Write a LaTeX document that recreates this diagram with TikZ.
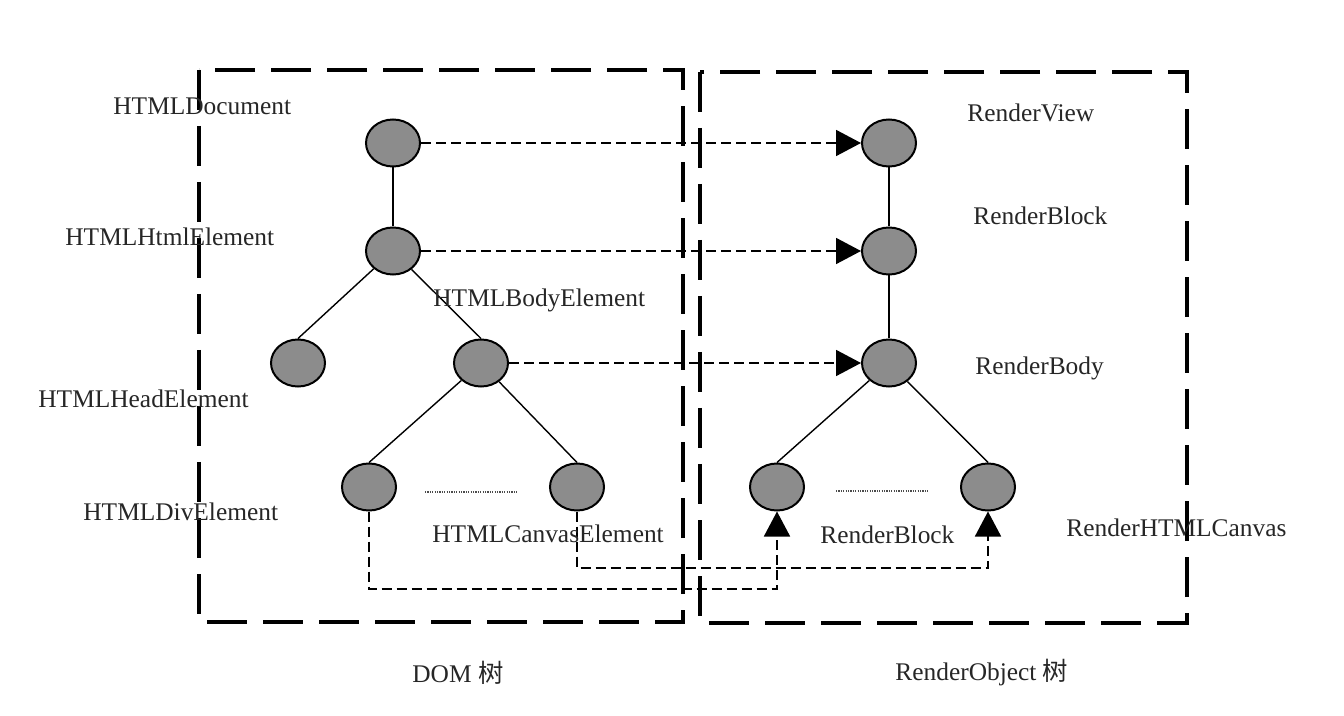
\documentclass[tikz,border=0pt]{standalone}
\usepackage{fontspec}
\setmainfont{Liberation Serif}
\newfontfamily\cjk{Noto Sans CJK SC}
\usetikzlibrary{shapes.geometric,arrows.meta}

\begin{document}
\begin{tikzpicture}[x=0.5pt,y=-0.5pt,font=\fontsize{12.7}{15}\selectfont]
\tikzset{N/.style={ellipse,draw,line width=1pt,fill=black!45,minimum width=27pt,minimum height=23.5pt,inner sep=0},
T/.style={anchor=base west,inner sep=0,text=black!85},
Box/.style={line width=2.2pt,dash pattern=on 20pt off 8pt},
Map/.style={line width=0.85pt,dash pattern=on 5pt off 2.5pt,-{Triangle[length=12.5pt,width=13pt]}},
E/.style={line width=0.7pt},
Dots/.style={line width=0.7pt,dash pattern=on 0.6pt off 0.6pt,black!70}
}

\useasboundingbox (0,0) rectangle (1344,716);

% The two frames
\draw[Box] (199,70) rectangle (683,622);
\draw[Box] (700,72) rectangle (1187,623);

% DOM tree
\node(doc)[N] at (393,143) {};
\node(html)[N] at (393,251) {};
\node(head)[N] at (298,363) {};
\node(body)[N] at (481,363) {};
\node(div)[N] at (369,487) {};
\node(canvas)[N] at (577,487) {};

\draw[E] (doc) -- (html);
\draw[E] (html) -- (head.north);
\draw[E] (html) -- (body.north);
\draw[E] (body) -- (div.north);
\draw[E] (body) -- (canvas.north);

% RenderObject tree
\node(view)[N] at (889,143) {};
\node(block)[N] at (889,251) {};
\node(rbody)[N] at (889,363) {};
\node(rblock)[N] at (777,487) {};
\node(rcanvas)[N] at (988,487) {};

\draw[E] (view) -- (block);
\draw[E] (block) -- (rbody);
\draw[E] (rbody) -- (rblock.north);
\draw[E] (rbody) -- (rcanvas.north);

% more children
\coordinate(d1) at (425,492);
\coordinate(d2) at (517,492);
\coordinate(d3) at (836,491);
\coordinate(d4) at (928,491);
\draw[Dots] (d1) -- (d2);
\draw[Dots] (d3) -- (d4);

% DOM node -> render object
\draw[Map] (doc) -- (view);
\draw[Map] (html) -- (block);
\draw[Map] (body) -- (rbody);

\coordinate(low1) at (0,589);
\coordinate(low2) at (0,568);
\draw[Map] (div.south) -- (div.south |- low1) -| (rblock.south);
\draw[Map] (canvas.south) -- (canvas.south |- low2) -| (rcanvas.south);

% labels
\node(tdoc)[T] at (113,115) {HTMLDocument};
\node(thtml)[T] at (65,246) {HTMLHtmlElement};
\node(thead)[T] at (38,408) {HTMLHeadElement};
\node(tbody)[T] at (433,307) {HTMLBodyElement};
\node(tdiv)[T] at (83,520) {HTMLDivElement};
\node(tcanvas)[T] at (432,542) {HTMLCanvasElement};

\node(tview)[T] at (967,122) {RenderView};
\node(tblock)[T] at (973,225) {RenderBlock};
\node(trbody)[T] at (975,375) {RenderBody};
\node(trblock)[T] at (820,544) {RenderBlock};
\node(trcanvas)[T] at (1066,537) {RenderHTMLCanvas};

% captions
\node(dom)[T] at (412,682) {DOM {\cjk 树}};
\node(robj)[T] at (895,680) {RenderObject {\cjk 树}};

\end{tikzpicture}
\end{document}
